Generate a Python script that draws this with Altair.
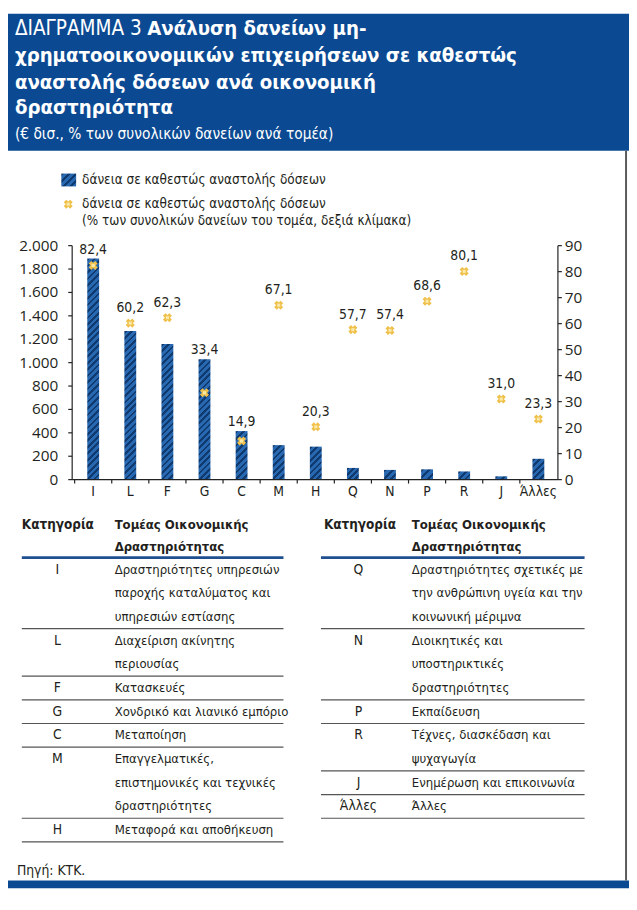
import altair as alt
import pandas as pd

# ---------------- data ----------------
categories = ["I", "L", "F", "G", "C", "M", "H", "Q", "N", "P", "R", "J", "Άλλες"]
loans_eur = [1890, 1270, 1160, 1030, 415, 295, 282, 100, 83, 88, 70, 28, 178]
share_pct = [82.4, 60.2, 62.3, 33.4, 14.9, 67.1, 20.3, 57.7, 57.4, 68.6, 80.1, 31.0, 23.3]
left_ticks = [0, 200, 400, 600, 800, 1000, 1200, 1400, 1600, 1800, 2000]
right_ticks = [0, 10, 20, 30, 40, 50, 60, 70, 80, 90]

title_regular = "ΔΙΑΓΡΑΜΜΑ 3"
title_bold = ["Ανάλυση δανείων μη-",
              "χρηματοοικονομικών επιχειρήσεων σε καθεστώς",
              "αναστολής δόσεων ανά οικονομική",
              "δραστηριότητα"]
subtitle = "(€ δισ., % των συνολικών δανείων ανά τομέα)"
legend_bar = "δάνεια σε καθεστώς αναστολής δόσεων"
legend_pt = ["δάνεια σε καθεστώς αναστολής δόσεων",
             "(% των συνολικών δανείων του τομέα, δεξιά κλίμακα)"]

table_head_code = "Κατηγορία"
table_head_desc = ["Τομέας Οικονομικής", "Δραστηριότητας"]
left_codes = ["I", "L", "F", "G", "C", "M", "H"]
left_desc = [
    ["Δραστηριότητες υπηρεσιών", "παροχής καταλύματος και", "υπηρεσιών εστίασης"],
    ["Διαχείριση ακίνητης", "περιουσίας"],
    ["Κατασκευές"],
    ["Χονδρικό και λιανικό εμπόριο"],
    ["Μεταποίηση"],
    ["Επαγγελματικές,", "επιστημονικές και τεχνικές", "δραστηριότητες"],
    ["Μεταφορά και αποθήκευση"],
]
right_codes = ["Q", "N", "P", "R", "J", "Άλλες"]
right_desc = [
    ["Δραστηριότητες σχετικές με", "την ανθρώπινη υγεία και την", "κοινωνική μέριμνα"],
    ["Διοικητικές και", "\u00a0υποστηρικτικές", "δραστηριότητες"],
    ["Εκπαίδευση"],
    ["Τέχνες, διασκέδαση και", "ψυχαγωγία"],
    ["Ενημέρωση και επικοινωνία"],
    ["Άλλες"],
]
source_note = "Πηγή: ΚΤΚ."

# ---------------- style / layout ----------------
W, H = 629, 886
NARROW = "Liberation Sans Narrow, Arial Narrow, DejaVu Sans Condensed, Roboto Condensed, Roboto, sans-serif"
AXFONT = "Open Sans"
BLUE = "#0B4A93"
TXT = "#231F20"
X_RANGE = [67.5, 556]
Y_RANGE = [472, 235]
PLOT_H = Y_RANGE[0] - Y_RANGE[1]
BAR_W = 12
GOLD = "#EFC04A"

df = pd.DataFrame({"cat": categories, "loans": loans_eur, "share": share_pct})
df["lab"] = [f"{v:.1f}".replace(".", ",") for v in share_pct]

xs = alt.Scale(domain=categories, range=X_RANGE, paddingInner=0, paddingOuter=0)
yl = alt.Scale(domain=[0, 2000], range=Y_RANGE, nice=False, zero=True)
yr = alt.Scale(domain=[0, 90], range=Y_RANGE, nice=False, zero=True)

one = pd.DataFrame({"_": [0]})


def hatch(w, h, period=4.6, dark_frac=0.42, light="#2868B0", dark="#0E3A70"):
    n = max(1, round((w + h) / (1.4142 * period)))
    k = (w + h) / (w * w + h * h)
    stops = []
    for i in range(n):
        s, m, e = i / n, (i + dark_frac) / n, (i + 1) / n
        stops += [{"offset": s, "color": dark}, {"offset": m, "color": dark},
                  {"offset": m, "color": light}, {"offset": e, "color": light}]
    return {"gradient": "linear", "x1": 0, "y1": 0, "x2": k * w, "y2": k * h, "stops": stops}


def txt(s, x, y, size, weight="normal", align="left", color=TXT, font=NARROW):
    return alt.Chart(one).mark_text(
        text=s, font=font, fontSize=size, fontWeight=weight, align=align,
        baseline="alphabetic", color=color
    ).encode(x=alt.value(x), y=alt.value(y))


def vrule(x, y1, y2, color, sw=1):
    return alt.Chart(one).mark_rule(color=color, strokeWidth=sw).encode(
        x=alt.value(x), y=alt.value(y1), y2=alt.value(y2))


def hrule(y, x1, x2, color, sw=1):
    return alt.Chart(one).mark_rule(color=color, strokeWidth=sw).encode(
        y=alt.value(y), x=alt.value(x1), x2=alt.value(x2))


def marker_layers(data, x, y):
    return [
        alt.Chart(data).mark_point(shape="cross", angle=45, filled=True, size=85,
                                   color=GOLD, opacity=1).encode(x=x, y=y),
        alt.Chart(data).mark_square(size=10, color="#FBE9A8", opacity=1).encode(x=x, y=y),
    ]


layers = []

# header band, frame
layers.append(alt.Chart(one).mark_rect(color=BLUE).encode(
    x=alt.value(0), x2=alt.value(W), y=alt.value(0), y2=alt.value(139)))
layers.append(alt.Chart(one).mark_rect(color=BLUE).encode(
    x=alt.value(0), x2=alt.value(W), y=alt.value(878), y2=alt.value(H)))
layers.append(vrule(626, 139, 878, "#5A5A5A", 2))

# title
TS = 20.5
layers.append(txt(title_regular, 7, 22, 20.8, color="white"))
layers.append(txt(title_bold[0], 141, 22, TS, "bold", color="white"))
layers.append(txt(title_bold[1], 7, 49, TS, "bold", color="white"))
layers.append(txt(title_bold[2], 7, 76, TS, "bold", color="white"))
layers.append(txt(title_bold[3], 7, 102, TS, "bold", color="white"))
layers.append(txt(subtitle, 7, 127, 15.5, color="white"))

# legend
LS = 13.6
layers.append(alt.Chart(one).mark_rect(fill=hatch(15, 13)).encode(
    x=alt.value(54), x2=alt.value(69), y=alt.value(162), y2=alt.value(175)))
layers.append(txt(legend_bar, 75, 173, LS))
layers += marker_layers(one, alt.value(61), alt.value(193))
layers.append(txt(legend_pt[0], 75, 197, LS))
layers.append(txt(legend_pt[1], 75, 214, LS))

# bars (hatched)
for c, v in zip(categories, loans_eur):
    h = v / 2000 * PLOT_H
    layers.append(alt.Chart(df).transform_filter(alt.datum.cat == c).mark_bar(
        width=BAR_W, fill=hatch(BAR_W, max(h, 1))).encode(
        x=alt.X("cat:N", scale=xs, axis=None),
        y=alt.Y("loans:Q", scale=yl, axis=None)))

# markers
layers += marker_layers(df, alt.X("cat:N", scale=xs, axis=None),
                        alt.Y("share:Q", scale=yr, axis=None))

# data labels above the higher of bar / marker
layers.append(alt.Chart(df).transform_calculate(
    lpos="max(datum.share + 4.2, datum.loans * 90 / 2000 + 1.9)").mark_text(
    font=NARROW, fontSize=14, color=TXT, baseline="alphabetic", align="center").encode(
    x=alt.X("cat:N", scale=xs, axis=None),
    y=alt.Y("lpos:Q", scale=yr, axis=None),
    text="lab:N"))

# axes
lt = pd.DataFrame({"t": left_ticks, "s": [f"{t:,}".replace(",", ".") for t in left_ticks]})
rt = pd.DataFrame({"t": right_ticks, "s": [str(t) for t in right_ticks]})
layers.append(vrule(65, Y_RANGE[1], Y_RANGE[0], "#222", 1.2))
layers.append(alt.Chart(lt).mark_rule(color="#222", strokeWidth=1.2).encode(
    y=alt.Y("t:Q", scale=yl, axis=None), x=alt.value(61), x2=alt.value(65)))
layers.append(alt.Chart(lt).mark_text(font=AXFONT, fontSize=15.5, align="right",
                                      baseline="middle", color=TXT).encode(
    y=alt.Y("t:Q", scale=yl, axis=None), x=alt.value(51), text="s:N"))
layers.append(vrule(557, Y_RANGE[1], Y_RANGE[0], "#222", 1.2))
layers.append(alt.Chart(rt).mark_rule(color="#222", strokeWidth=1.2).encode(
    y=alt.Y("t:Q", scale=yr, axis=None), x=alt.value(557), x2=alt.value(561)))
layers.append(alt.Chart(rt).mark_text(font=AXFONT, fontSize=15.5, align="left",
                                      baseline="middle", color=TXT).encode(
    y=alt.Y("t:Q", scale=yr, axis=None), x=alt.value(564), text="s:N"))
layers.append(hrule(472, 65, 557, "#222", 1.2))
layers.append(alt.Chart(df).mark_rule(color="#222", strokeWidth=1.2).encode(
    x=alt.X("cat:N", scale=xs, axis=None, bandPosition=0),
    y=alt.value(472), y2=alt.value(476)))
layers.append(alt.Chart(df).mark_text(font=NARROW, fontSize=14, align="center",
                                      baseline="alphabetic", color=TXT).encode(
    x=alt.X("cat:N", scale=xs, axis=None), y=alt.value(489), text="cat:N"))

# tables
FS = 13.2


def table_layers(codes, descs, x_code, x_desc, x0, x1, head_code_x):
    out = []
    out.append(txt(table_head_code, head_code_x, 522, 13.6, "bold"))
    out.append(txt(table_head_desc[0], x_desc, 522, FS, "bold"))
    out.append(txt(table_head_desc[1], x_desc, 544, FS, "bold"))
    rows, seps, codes_rows = [], [], []
    idx = 0
    for c, lines in zip(codes, descs):
        codes_rows.append({"s": c, "pos": idx + 0.67})
        for ln in lines:
            rows.append({"s": ln, "pos": idx + 0.67})
            idx += 1
        seps.append({"pos": idx})
    ys = alt.Scale(domain=[0, 12], range=[551, 551 + 24 * 12], nice=False, zero=False)
    out.append(alt.Chart(pd.DataFrame(seps)).mark_rule(color="#555", strokeWidth=1.2).encode(
        y=alt.Y("pos:Q", scale=ys, axis=None), x=alt.value(x0), x2=alt.value(x1)))
    out.append(hrule(551, x0, x1, "#1F4F8F", 3))
    out.append(alt.Chart(pd.DataFrame(rows)).mark_text(
        font=NARROW, fontSize=FS, align="left", baseline="alphabetic", color=TXT).encode(
        y=alt.Y("pos:Q", scale=ys, axis=None), x=alt.value(x_desc), text="s:N"))
    out.append(alt.Chart(pd.DataFrame(codes_rows)).mark_text(
        font=NARROW, fontSize=14, align="center", baseline="alphabetic", color=TXT).encode(
        y=alt.Y("pos:Q", scale=ys, axis=None), x=alt.value(x_code), text="s:N"))
    return out


layers += table_layers(left_codes, left_desc, 50, 108, 14, 279, 14)
layers += table_layers(right_codes, right_desc, 355, 409, 317, 584, 320)

layers.append(txt(source_note, 9, 872, 14))

chart = alt.layer(*layers).resolve_scale(x="independent", y="independent").properties(
    width=W, height=H, padding=0, background="white",
    autosize=alt.AutoSizeParams(type="none")
).configure_view(stroke=None)

chart.save("out.html", embed_options={"renderer": "svg", "actions": False})
